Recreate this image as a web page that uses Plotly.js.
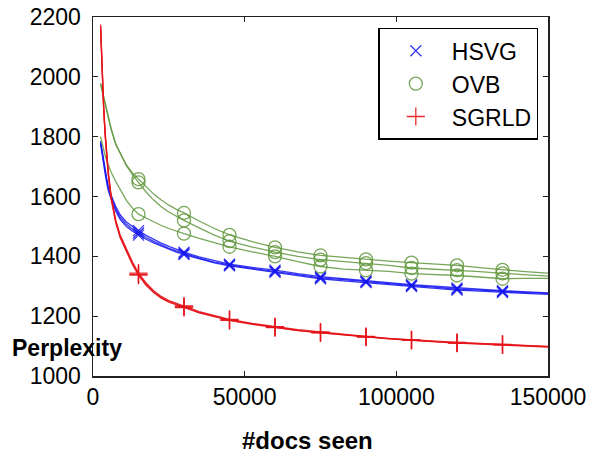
<!DOCTYPE html>
<html>
<head>
<meta charset="utf-8">
<script src="https://cdn.plot.ly/plotly-3.0.1.min.js"></script>
<style>html,body{margin:0;padding:0;background:#fff;}#chart{width:590px;height:455px;}</style>
</head>
<body>
<div id="chart"></div>
<script>
// #docs seen
var docsSeen = [2500, 3000, 3500, 4000, 4500, 5000, 6000, 7500, 9000, 11000, 13000, 15000, 17500, 20000, 22500, 25000, 27500, 30000, 35000, 40000, 45000, 52500, 60000, 67500, 75000, 82500, 90000, 97500, 105000, 112500, 120000, 127500, 135000, 142500, 150000];

// HSVG runs
var hsvgRun1 = [1780, 1745, 1712, 1683, 1655, 1628, 1597, 1558, 1530, 1507, 1491, 1478, 1463, 1450, 1438, 1427, 1418, 1410, 1394, 1381, 1371, 1360, 1350, 1338, 1328, 1322, 1315, 1308, 1302, 1297, 1290, 1287, 1282, 1279, 1276];
var hsvgRun2 = [1785, 1750, 1718, 1690, 1662, 1636, 1604, 1566, 1538, 1515, 1499, 1486, 1470, 1456, 1444, 1433, 1423, 1414, 1398, 1385, 1374, 1363, 1354, 1342, 1332, 1325, 1318, 1311, 1305, 1300, 1294, 1290, 1285, 1281, 1278];
var hsvgRun3 = [1775, 1738, 1705, 1676, 1648, 1621, 1590, 1551, 1523, 1500, 1484, 1471, 1457, 1445, 1434, 1423, 1414, 1406, 1391, 1378, 1368, 1357, 1347, 1335, 1325, 1318, 1312, 1305, 1299, 1293, 1287, 1284, 1279, 1276, 1273];

// OVB runs
var ovbRun1 = [1975, 1955, 1932, 1910, 1888, 1866, 1824, 1774, 1744, 1706, 1679, 1658, 1632, 1608, 1588, 1571, 1557, 1545, 1518, 1493, 1472, 1449, 1430, 1415, 1403, 1396, 1390, 1384, 1379, 1374, 1370, 1362, 1355, 1349, 1344];
var ovbRun2 = [1979, 1958, 1936, 1913, 1890, 1868, 1826, 1776, 1743, 1703, 1673, 1647, 1615, 1588, 1566, 1548, 1533, 1520, 1495, 1471, 1451, 1431, 1414, 1400, 1389, 1383, 1377, 1370, 1361, 1357, 1354, 1349, 1343, 1338, 1334];
var ovbRun3 = [1800, 1776, 1754, 1736, 1720, 1705, 1680, 1650, 1621, 1587, 1561, 1541, 1528, 1515, 1503, 1493, 1484, 1476, 1460, 1445, 1432, 1415, 1400, 1382, 1366, 1357, 1353, 1350, 1342, 1340, 1336, 1331, 1325, 1326, 1326];

// SGRLD runs
var sgrldRun1 = [2170, 2020, 1900, 1810, 1740, 1680, 1595, 1515, 1465, 1418, 1376, 1340, 1306, 1281, 1262, 1249, 1239, 1231, 1213, 1199, 1187, 1174, 1163, 1153, 1145, 1138, 1131, 1125, 1120, 1115, 1111, 1108, 1105, 1101, 1098];
var sgrldRun2 = [2175, 2025, 1905, 1815, 1745, 1686, 1600, 1521, 1470, 1423, 1381, 1344, 1311, 1285, 1266, 1252, 1242, 1234, 1215, 1201, 1189, 1176, 1165, 1155, 1147, 1139, 1132, 1126, 1121, 1116, 1112, 1109, 1106, 1102, 1099];
var sgrldRun3 = [2165, 2015, 1895, 1805, 1736, 1676, 1591, 1512, 1461, 1414, 1373, 1337, 1303, 1279, 1260, 1247, 1237, 1229, 1211, 1198, 1186, 1173, 1162, 1152, 1144, 1137, 1130, 1124, 1119, 1114, 1110, 1107, 1104, 1100, 1097];

var markerEvery = 15000;
var xTicks = [0, 50000, 100000, 150000];
var yTicks = [1000, 1200, 1400, 1600, 1800, 2000, 2200];

var methods = [
  {name: 'HSVG', runs: [hsvgRun1, hsvgRun2, hsvgRun3], color: 'rgba(20,20,240,0.85)', symbol: 'x-thin-open', size: 11},
  {name: 'OVB', runs: [ovbRun1, ovbRun2, ovbRun3], color: 'rgba(95,150,60,0.85)', symbol: 'circle-open', size: 13},
  {name: 'SGRLD', runs: [sgrldRun1, sgrldRun2, sgrldRun3], color: 'rgba(230,20,25,0.9)', symbol: 'cross-thin-open', size: 13}
];

var FONT = 'Liberation Sans, Arial, Helvetica, sans-serif';
var traces = [];
methods.forEach(function (m) {
  m.runs.forEach(function (run) {
    traces.push({x: docsSeen, y: run, mode: 'lines', type: 'scatter', showlegend: false,
      line: {color: m.color, width: 1.3}, hoverinfo: 'skip'});
  });
});
methods.forEach(function (m) {
  m.runs.forEach(function (run, k) {
    var mx = [], my = [];
    docsSeen.forEach(function (d, i) {
      if (d % markerEvery === 0 && d < 150000) { mx.push(d); my.push(run[i]); }
    });
    traces.push({x: mx, y: my, mode: 'markers', type: 'scatter', name: m.name,
      showlegend: k === 0,
      marker: {symbol: m.symbol, size: m.size, color: m.color, line: {color: m.color, width: 1.3}}});
  });
});

var layout = {
  width: 590, height: 455,
  margin: {l: 93, r: 42, t: 17, b: 79},
  paper_bgcolor: '#fff', plot_bgcolor: '#fff',
  font: {family: FONT, color: '#000', size: 23},
  showlegend: true,
  legend: {x: 0.9787, xanchor: 'right', y: 0.97, yanchor: 'top', bgcolor: '#fff',
    bordercolor: '#000', borderwidth: 1.5, font: {family: FONT, size: 23, color: '#000'},
    itemwidth: 62, tracegroupgap: 0, entrywidth: 165},
  xaxis: {range: [0, 150000], tickvals: xTicks, tickformat: 'd', ticks: 'inside', ticklen: 5,
    tickcolor: '#222', showline: true, linecolor: '#222', linewidth: 1.5, mirror: 'ticks',
    showgrid: false, zeroline: false, tickfont: {size: 23}, ticklabelstandoff: 0},
  yaxis: {range: [1000, 2200], tickvals: yTicks, tickformat: 'd', ticks: 'inside', ticklen: 5,
    tickcolor: '#222', showline: true, linecolor: '#222', linewidth: 1.5, mirror: 'ticks',
    showgrid: false, zeroline: false, tickfont: {size: 23}, ticklabelstandoff: 6},
  annotations: [
    {text: '<b>Perplexity</b>', xref: 'paper', yref: 'paper', x: -0.1824, y: 0.078,
      xanchor: 'left', yanchor: 'middle', showarrow: false, font: {family: FONT, size: 23, color: '#000'}},
    {text: '<b>#docs seen</b>', xref: 'paper', yref: 'paper', x: 0.4725, y: -0.18,
      xanchor: 'center', yanchor: 'middle', showarrow: false, font: {family: FONT, size: 24, color: '#000'}}
  ]
};

Plotly.newPlot('chart', traces, layout, {displayModeBar: false, staticPlot: true});
</script>
</body>
</html>
